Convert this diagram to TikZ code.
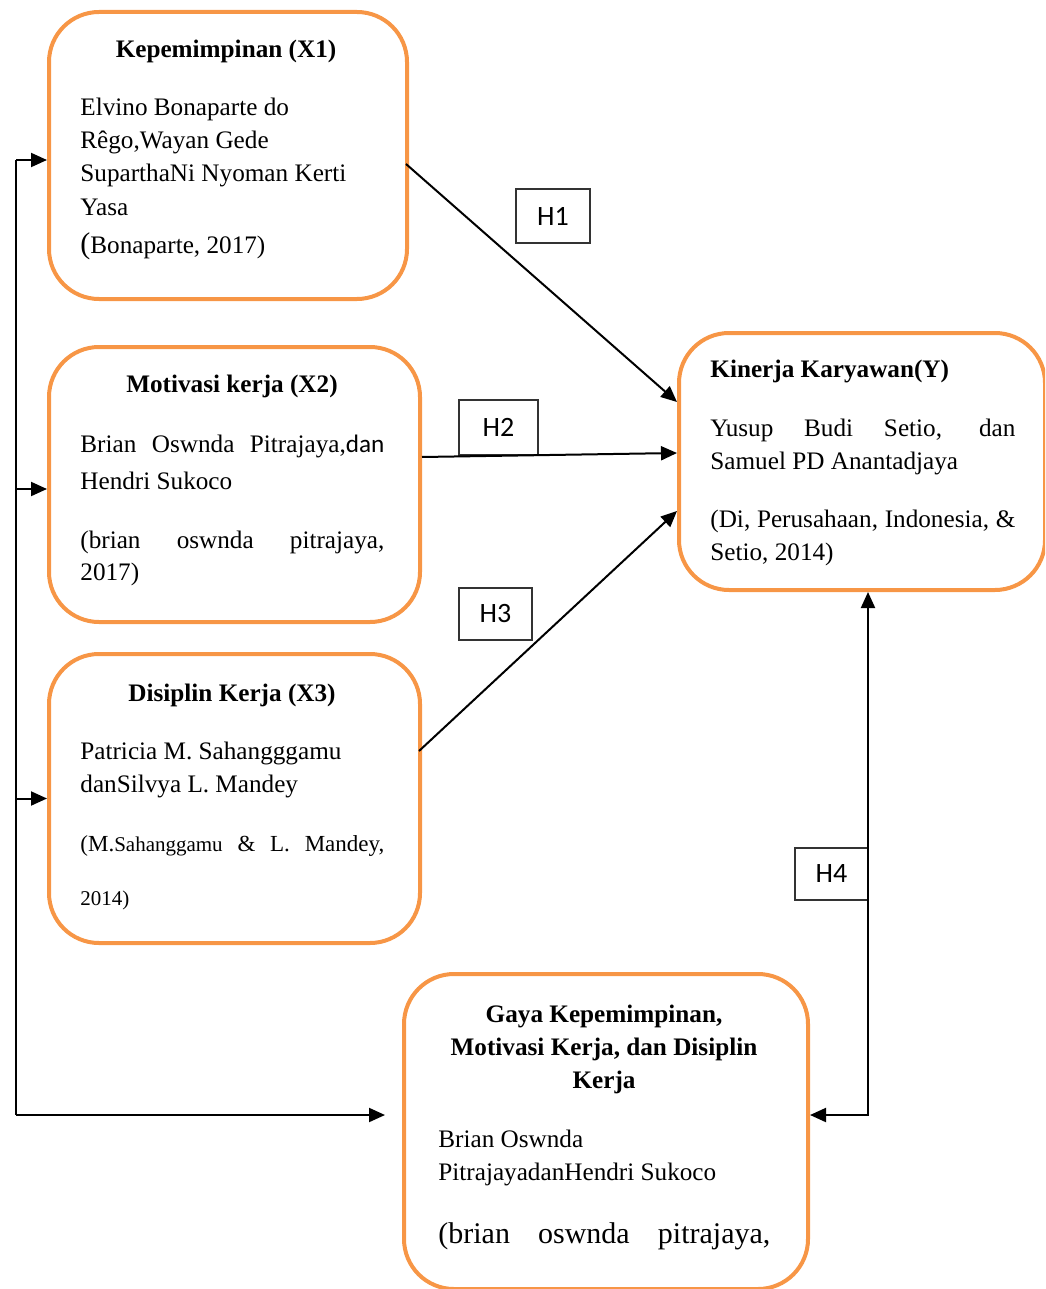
\documentclass[tikz,border=0pt]{standalone}
\usepackage{fontspec}
\setmainfont{Liberation Serif}
\newfontfamily\calib{Carlito}
\usetikzlibrary{arrows.meta}
\definecolor{boxorange}{HTML}{F79646}
\begin{document}
\begin{tikzpicture}[x=0.5pt,y=-0.5pt,
 vbox/.style={draw=boxorange, line width=2pt, rounded corners=25pt, anchor=north west, inner sep=0pt},
 txt/.style={anchor=base west, inner sep=0pt, font=\fontsize{12.6}{16}\selectfont},
 ttl/.style={anchor=base, inner sep=0pt, font=\fontsize{12.6}{16}\selectfont\bfseries},
 hbox/.style={draw=black!80, line width=0.6pt, inner sep=0pt, font=\calib\fontsize{14}{14}\selectfont},
 arr/.style={line width=1pt, -{Triangle[length=8pt,width=7pt]}},
 arrb/.style={line width=1pt, {Triangle[length=8pt,width=7pt]}-{Triangle[length=8pt,width=7pt]}},
 link/.style={line width=1pt}]
\path[use as bounding box, clip] (0,0) rectangle (1045,1289);

% boxes
\node[vbox, minimum width=179pt, minimum height=143.5pt] (x1) at (47,10) {};
\node[vbox, minimum width=185.5pt, minimum height=137.5pt] (x2) at (47,345) {};
\node[vbox, minimum width=185.5pt, minimum height=144.5pt] (x3) at (47,652) {};
\node[vbox, minimum width=183pt, minimum height=128.5pt] (y) at (677,331) {};
\node[vbox, minimum width=202pt, minimum height=157.5pt] (g) at (402,972) {};

% X1 text
\node[ttl] (x1t) at (226,58) {Kepemimpinan (X1)};
\node[txt] (x1a) at (80,116) {Elvino Bonaparte do};
\node[txt] (x1b) at (80,149) {Rêgo,Wayan Gede};
\node[txt] (x1c) at (80,182) {SuparthaNi Nyoman Kerti};
\node[txt] (x1d) at (80,216) {Yasa};
\node[txt] (x1e) at (80,253) {{\fontsize{15}{15}\selectfont(}Bonaparte, 2017)};

% X2 text
\node[ttl] (x2t) at (232,392) {Motivasi kerja (X2)};
\node[txt] (x2a) at (80,452) {\makebox[152pt][s]{Brian Oswnda Pitrajaya,{\calib dan}}};
\node[txt] (x2b) at (80,489) {Hendri Sukoco};
\node[txt] (x2c) at (80,548) {\makebox[152pt][s]{(brian oswnda pitrajaya,}};
\node[txt] (x2d) at (80,580) {2017)};

% X3 text
\node[ttl] (x3t) at (232,701) {Disiplin Kerja (X3)};
\node[txt] (x3a) at (80,759) {Patricia M. Sahangggamu};
\node[txt] (x3b) at (80,792) {danSilvya L. Mandey};
\node[txt, font=\fontsize{11.5}{14}\selectfont] (x3c) at (80,851) {\makebox[152pt][s]{(M.{\fontsize{10.5}{12}\selectfont Sahanggamu} \& L. Mandey,}};
\node[txt, font=\fontsize{10.5}{14}\selectfont] (x3d) at (80,905) {2014)};

% Y text
\node[txt, font=\fontsize{12.6}{16}\selectfont\bfseries] (yt) at (710,377) {Kinerja Karyawan(Y)};
\node[txt] (ya) at (710,436) {\makebox[152.5pt][s]{Yusup Budi Setio, dan}};
\node[txt] (yb) at (710,469) {Samuel PD Anantadjaya};
\node[txt] (yc) at (710,527) {\makebox[152.5pt][s]{(Di, Perusahaan, Indonesia, \&}};
\node[txt] (yd) at (710,560) {Setio, 2014)};

% G text
\node[ttl] (gt1) at (604,1022) {Gaya Kepemimpinan,};
\node[ttl] (gt2) at (604,1055) {Motivasi Kerja, dan Disiplin};
\node[ttl] (gt3) at (604,1088) {Kerja};
\node[txt] (ga) at (438,1147) {Brian Oswnda};
\node[txt] (gb) at (438,1180) {PitrajayadanHendri Sukoco};
\node[txt, font=\fontsize{15}{18}\selectfont] (gc) at (438,1243) {\makebox[166pt][s]{(brian oswnda pitrajaya,}};

% hypothesis labels
\node[hbox, minimum width=37pt, minimum height=27pt] (h1) at (553,216) {H1};
\node[hbox, minimum width=39.5pt, minimum height=27.5pt] (h2) at (498.5,427.5) {H2};
\node[hbox, minimum width=36.5pt, minimum height=26pt] (h3) at (495.5,614) {H3};
\node[hbox, minimum width=36.5pt, minimum height=26pt] (h4) at (831.5,874) {H4};

% connectors to Y
\draw[arr] ([xshift=-1.5pt,yshift=-4.25pt]x1.east) -- ([yshift=29.75pt]y.west);
\draw[arr] ([yshift=13.75pt]x2.east) -- ([yshift=4.25pt]y.west);
\draw[arr] ([xshift=-1.5pt,yshift=23.75pt]x3.east) -- ([yshift=-24.75pt]y.west);

% left trunk
\coordinate (ltop) at (16,160);
\coordinate (lbot) at (16,1115);
\coordinate (gin) at (385,1115);
\draw[link] (ltop) -- (lbot);
\draw[arr] (ltop) -- (x1.west |- ltop);
\draw[arr] ([yshift=-2.25pt]x2.west -| ltop) -- ([yshift=-2.25pt]x2.west);
\draw[arr] (x3.west -| ltop) -- (x3.west);
\draw[arr] (lbot) -- (gin);

% H4 two-way
\coordinate (h4c) at (868,1115);
\draw[arrb] (y.south -| h4c) -- (h4c) -- (g.east |- h4c);
\end{tikzpicture}
\end{document}
